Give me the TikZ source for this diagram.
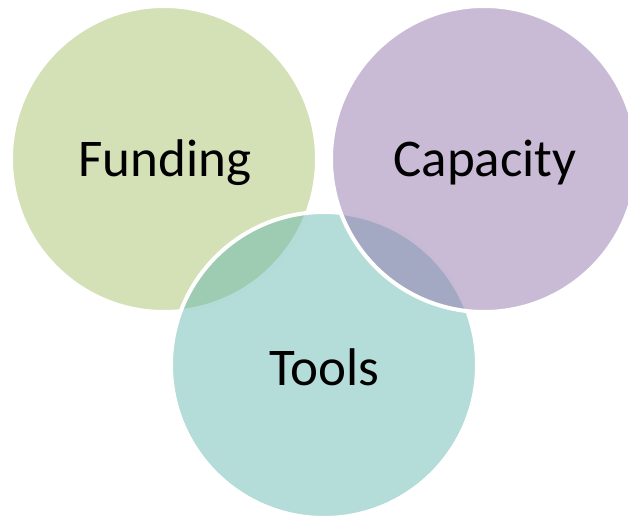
\documentclass[tikz,border=0pt]{standalone}
\usepackage{fontspec}
\setmainfont{Carlito}

\definecolor{fundgreen}{RGB}{169,193,107}
\definecolor{toolteal}{RGB}{105,185,177}
\definecolor{capviolet}{RGB}{147,119,173}

\begin{document}
\begin{tikzpicture}[x=1pt, y=1pt,
    venn/.style={circle, draw=white, line width=4pt, fill opacity=0.5,
                 minimum size=306pt, inner sep=0pt},
    venntext/.style={anchor=base, font=\fontsize{53}{63}\selectfont}]
    % Fix the page to the size of the reference
    \useasboundingbox (0,0) rectangle (628,517);
    
    % Draw the three circles (Capacity last, so its border lies on top)
    \node[venn, fill=fundgreen] (funding) at (164,358) {};
    \node[venn, fill=toolteal] (tools) at (324,152) {};
    \node[venn, fill=capviolet] (capacity) at (484,358) {};
    
    % Put the labels in the circles
    \node[venntext] (fundingtext) at (165,340) {Funding};
    \node[venntext] (capacitytext) at (485,340) {Capacity};
    \node[venntext] (toolstext) at (324,132) {Tools};
    
\end{tikzpicture}
\end{document}
